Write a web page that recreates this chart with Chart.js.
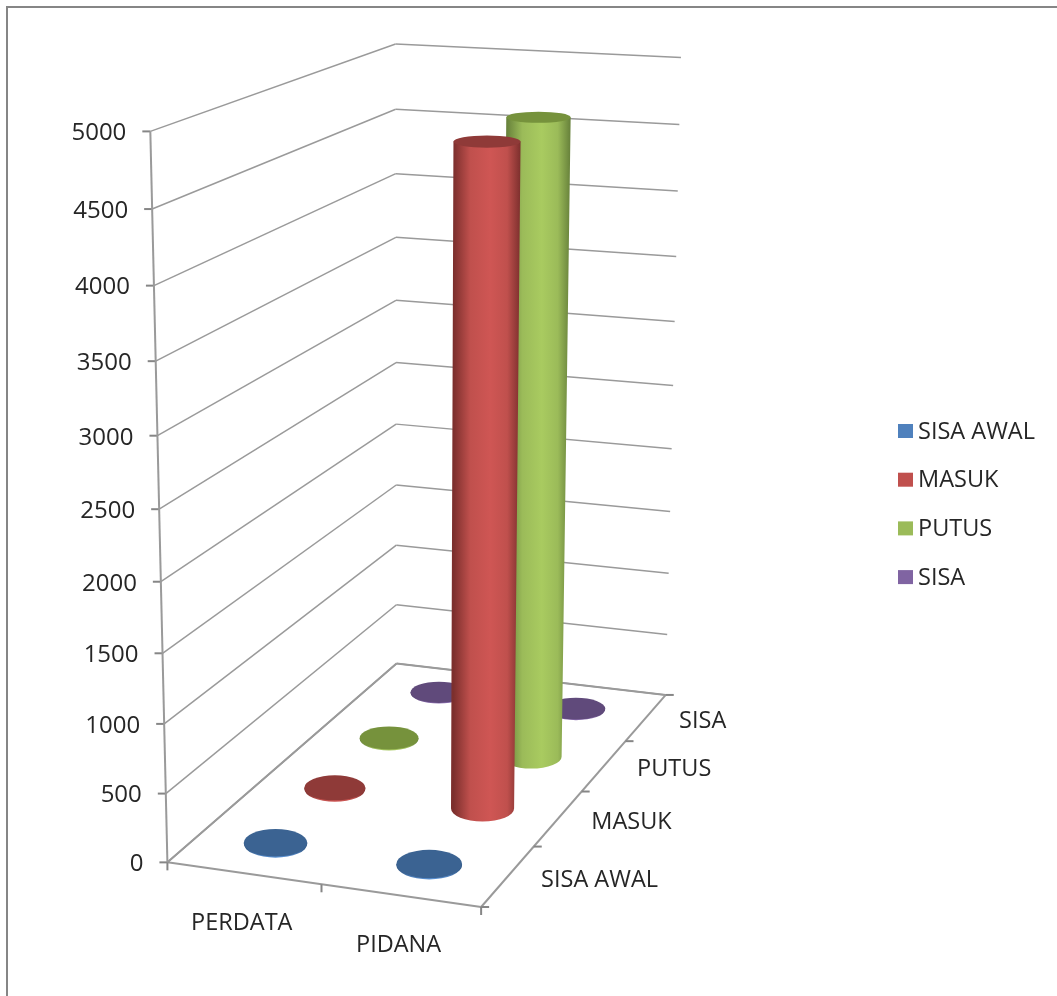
<!DOCTYPE html>
<html>
<head>
<meta charset="utf-8">
<title>Perkara</title>
<script src="https://cdn.jsdelivr.net/npm/chart.js@4"></script>
<style>
	html, body { margin: 0; padding: 0; background: #fff; overflow: hidden; }
	#bingkai { position: absolute; left: 6px; top: 6px; width: 1200px; height: 1200px; border: 2px solid #868686; }
	canvas { position: absolute; left: 0; top: 0; filter: blur(0.4px); }
</style>
</head>
<body>
<div id="bingkai"></div>
<canvas id="grafik" width="1057" height="996"></canvas>
<script>
// Data grafik
const kategori = ["PERDATA", "PIDANA"];
const seri = ["SISA AWAL", "MASUK", "PUTUS", "SISA"];
const sisaAwal = [8, 8];
const masuk = [10, 4770];
const putus = [8, 4770];
const sisa = [5, 5];
const labelNilai = [0, 500, 1000, 1500, 2000, 2500, 3000, 3500, 4000, 4500, 5000];

// Warna tiap seri
const warnaLegenda = ["#4F81BD", "#C0504D", "#9BBB59", "#8064A2"];
const warnaTutup = ["#3B6392", "#8F3A38", "#76923C", "#604A7B"];
const warnaTerang = ["#5B93D6", "#CF5654", "#A9CB60", "#9072B6"];
const warnaGelap = ["#2F5480", "#7C2F2D", "#66803A", "#4F3C68"];

const FONT = '23.5px "Open Sans"';
const FONT_NILAI = '24px "Open Sans"';
const WARNA_TEKS = "#262626";
const WARNA_SUMBU = "#868686";
const WARNA_GRID = "#9A9A9A";

// Titik acuan kubus di gambar: [u, v, w, x, y] (u = kategori, v = kedalaman, w = tinggi)
const sudut = [
	[0, 0, 0, 168, 862],
	[1, 0, 0, 481, 908],
	[0, 1, 0, 397, 665],
	[1, 1, 0, 665, 694],
	[0, 0, 1, 150, 132],
	[0, 1, 1, 395, 44],
	[1, 1, 1, 682, 58],
	[0, 0, 0.5, 159, 508],
	[0, 1, 0.5, 396, 362],
	[1, 1, 0.5, 673, 385],
];

/**
 * Mencari matriks perspektif dari titik acuan (kuadrat terkecil + eliminasi Gauss).
 */
function hitungProyeksi() {
	const baris = [];
	sudut.forEach(([u, v, w, x, y]) => {
		baris.push([1, u, v, w, 0, 0, 0, 0, -x * u, -x * v, -x * w, x]);
		baris.push([0, 0, 0, 0, 1, u, v, w, -y * u, -y * v, -y * w, y]);
	});
	const n = 11;
	const m = [];
	for (let i = 0; i < n; i++) {
		m.push([]);
		for (let j = 0; j <= n; j++) {
			m[i].push(baris.reduce((t, r) => t + r[i] * r[j], 0));
		}
	}
	for (let i = 0; i < n; i++) {
		let p = i;
		for (let k = i + 1; k < n; k++) {
			if (Math.abs(m[k][i]) > Math.abs(m[p][i])) p = k;
		}
		[m[i], m[p]] = [m[p], m[i]];
		for (let k = 0; k < n; k++) {
			if (k === i) continue;
			const f = m[k][i] / m[i][i];
			for (let j = i; j <= n; j++) m[k][j] -= f * m[i][j];
		}
	}
	return m.map((r, i) => r[n] / r[i]);
}

const P = hitungProyeksi();

function proyeksi(u, v, w) {
	const d = 1 + P[8] * u + P[9] * v + P[10] * w;
	return {
		x: (P[0] + P[1] * u + P[2] * v + P[3] * w) / d,
		y: (P[4] + P[5] * u + P[6] * v + P[7] * w) / d,
	};
}

// Ukuran elips silinder mengikuti perspektif di titik itu
function ukuranElips(u, v, w) {
	const kiri = proyeksi(u - 0.1, v, w);
	const kanan = proyeksi(u + 0.1, v, w);
	const depan = proyeksi(u, v - 0.1, w);
	const belakang = proyeksi(u, v + 0.1, w);
	return {
		rx: (kanan.x - kiri.x) * 5 * 0.105,
		ry: Math.abs(depan.y - belakang.y) * 5 * 0.06,
	};
}

/**
 * Controller batang yang digambar sebagai silinder 3D.
 * Posisi tetap diambil dari skala x dan y milik Chart.js.
 */
class SilinderController extends Chart.BarController {
	draw() {
		const ctx = this.chart.ctx;
		const meta = this.getMeta();
		const sx = meta.xScale;
		const sy = meta.yScale;
		const iSeri = this.index;
		const v = (iSeri + 0.5) / seri.length;

		meta.data.forEach((el, i) => {
			const u = (sx.getPixelForValue(i) - sx.left) / sx.width;
			const w = (sy.bottom - el.y) / sy.height;
			const b = proyeksi(u, v, 0);
			const t = proyeksi(u, v, w);
			const ub = ukuranElips(u, v, 0);
			const ut = ukuranElips(u, v, w);

			const g = ctx.createLinearGradient(t.x - ut.rx, 0, t.x + ut.rx, 0);
			g.addColorStop(0, warnaGelap[iSeri]);
			g.addColorStop(0.25, warnaLegenda[iSeri]);
			g.addColorStop(0.55, warnaTerang[iSeri]);
			g.addColorStop(0.8, warnaLegenda[iSeri]);
			g.addColorStop(1, warnaGelap[iSeri]);

			ctx.save();
			ctx.beginPath();
			ctx.moveTo(t.x - ut.rx, t.y);
			ctx.lineTo(b.x - ub.rx, b.y);
			ctx.ellipse(b.x, b.y, ub.rx, ub.ry, 0, Math.PI, 0, true);
			ctx.lineTo(t.x + ut.rx, t.y);
			ctx.closePath();
			ctx.fillStyle = g;
			ctx.fill();

			ctx.beginPath();
			ctx.ellipse(t.x, t.y, ut.rx, ut.ry, 0, 0, Math.PI * 2);
			ctx.fillStyle = warnaTutup[iSeri];
			ctx.fill();
			ctx.restore();
		});
	}
}
SilinderController.id = "silinder";
SilinderController.defaults = Chart.BarController.defaults;
Chart.register(SilinderController);

function garis(ctx, a, b, warna, tebal) {
	ctx.beginPath();
	ctx.moveTo(a.x, a.y);
	ctx.lineTo(b.x, b.y);
	ctx.strokeStyle = warna;
	ctx.lineWidth = tebal;
	ctx.stroke();
}

// Dinding, lantai, sumbu dan label digambar sebelum silinder
const pluginKubus = {
	id: "kubus",
	beforeDatasetsDraw(chart) {
		const ctx = chart.ctx;
		const sx = chart.scales.x;
		const sy = chart.scales.y;
		ctx.save();
		ctx.font = FONT_NILAI;
		ctx.fillStyle = WARNA_TEKS;
		ctx.textBaseline = "middle";

		// Garis nilai pada dinding kiri dan belakang
		ctx.textAlign = "right";
		labelNilai.forEach((nilai) => {
			const w = (sy.bottom - sy.getPixelForValue(nilai)) / sy.height;
			const a = proyeksi(0, 0, w);
			const b = proyeksi(0, 1, w);
			const c = proyeksi(1, 1, w);
			garis(ctx, a, b, WARNA_GRID, 1.5);
			garis(ctx, b, c, WARNA_GRID, 1.5);
			garis(ctx, { x: a.x - 8, y: a.y }, a, WARNA_SUMBU, 2);
			ctx.fillText(String(nilai), a.x - 24, a.y + 2);
		});

		// Lantai dan sumbu tegak
		const a0 = proyeksi(0, 0, 0);
		const b0 = proyeksi(1, 0, 0);
		const c0 = proyeksi(1, 1, 0);
		const d0 = proyeksi(0, 1, 0);
		garis(ctx, a0, proyeksi(0, 0, 1), WARNA_GRID, 2);
		garis(ctx, a0, b0, WARNA_GRID, 2);
		garis(ctx, b0, c0, WARNA_GRID, 2);
		garis(ctx, c0, d0, WARNA_GRID, 2);
		garis(ctx, d0, a0, WARNA_GRID, 2);

		// Sumbu kategori
		ctx.font = FONT;
		ctx.textAlign = "center";
		for (let i = 0; i <= kategori.length; i++) {
			const u = i / kategori.length;
			const p = proyeksi(u, 0, 0);
			garis(ctx, p, { x: p.x, y: p.y + 8 }, WARNA_SUMBU, 2);
		}
		kategori.forEach((nama, i) => {
			const u = (sx.getPixelForValue(i) - sx.left) / sx.width;
			const p = proyeksi(u, 0, 0);
			ctx.fillText(nama, p.x - 2, p.y + 50);
		});

		// Sumbu kedalaman
		ctx.textAlign = "left";
		for (let i = 0; i <= seri.length; i++) {
			const p = proyeksi(1, i / seri.length, 0);
			garis(ctx, p, { x: p.x + 8, y: p.y }, WARNA_SUMBU, 2);
		}
		seri.forEach((nama, i) => {
			const p = proyeksi(1, (i + 0.5) / seri.length, 0);
			ctx.fillText(nama, p.x + 33, p.y + 4);
		});
		ctx.restore();
	},
	// Legenda di sebelah kanan
	afterDraw(chart) {
		const ctx = chart.ctx;
		ctx.save();
		ctx.font = FONT;
		ctx.textAlign = "left";
		ctx.textBaseline = "middle";
		chart.data.datasets.forEach((ds, i) => {
			const y = 431 + i * 48.7;
			ctx.fillStyle = warnaLegenda[i];
			ctx.fillRect(898, y - 7, 15, 14);
			ctx.fillStyle = WARNA_TEKS;
			ctx.fillText(ds.label, 918, y + 1);
		});
		ctx.restore();
	},
};

document.addEventListener("DOMContentLoaded", function () {
	const nilaiSeri = [sisaAwal, masuk, putus, sisa];
	new Chart(document.getElementById("grafik"), {
		type: "silinder",
		data: {
			labels: kategori,
			datasets: seri.map((nama, i) => ({
				label: nama,
				data: nilaiSeri[i],
				backgroundColor: warnaLegenda[i],
			})),
		},
		options: {
			responsive: false,
			animation: false,
			scales: {
				x: { type: "category", display: false },
				y: { type: "linear", display: false, min: 0, max: 5000 },
			},
			plugins: {
				legend: { display: false },
				tooltip: { enabled: false },
			},
		},
		plugins: [pluginKubus],
	});
});
</script>
</body>
</html>
